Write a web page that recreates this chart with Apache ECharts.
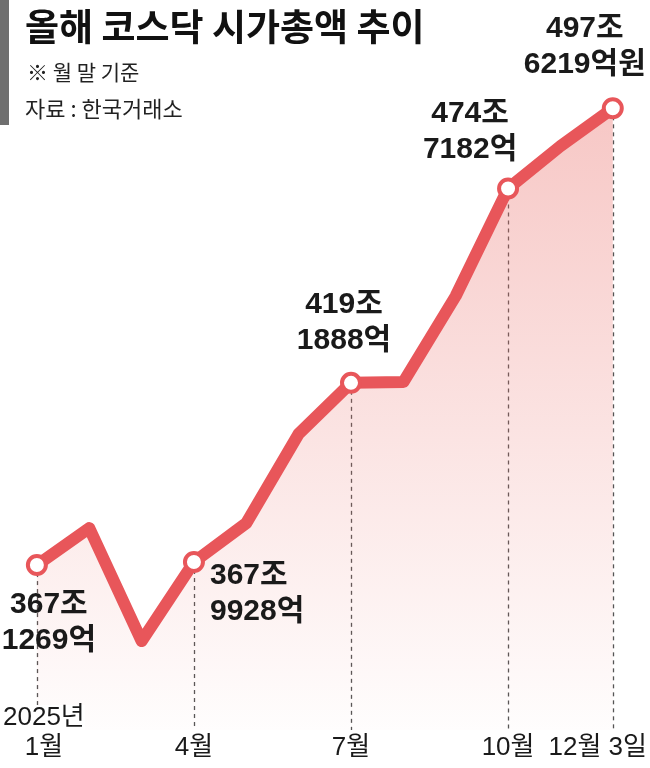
<!DOCTYPE html>
<html>
<head>
<meta charset="utf-8">
<script src="https://cdn.jsdelivr.net/npm/echarts@6/dist/echarts.min.js"></script>
<style>
  html, body { margin: 0; padding: 0; background: #fff; }
  #chart { width: 650px; height: 768px; }
</style>
</head>
<body>
<div id="chart"></div>
<script>
// ---- data ----
var months = ['1월', '2월', '3월', '4월', '5월', '6월', '7월', '8월', '9월', '10월', '11월', '12월 3일'];
var values = [367.1269, 377.7, 345.4, 367.9928, 379.1, 404.6, 419.1888, 419.4, 444.0, 474.7182, 486.8, 497.6219];
var labeledIdx = [0, 3, 6, 9, 11];
var axisLabelIdx = [0, 3, 6, 9, 11];
var yearLabel = '2025년';
var titleText = '올해 코스닥 시가총액 추이';
var noteText = '※ 월 말 기준';
var sourceText = '자료 : 한국거래소';

// ---- styles ----
var RED = '#e8565a';
var NUM_FONT = "'Liberation Sans', 'Noto Sans CJK KR', sans-serif";
var KR_FONT = "'Noto Sans CJK KR', sans-serif";

function valueText(v, i) {
  var jo = Math.floor(v);
  var eok = Math.round((v - jo) * 10000);
  return '{a|' + jo + '조}\n{b|' + eok + '억' + (i === values.length - 1 ? '원' : '') + '}';
}

var labelPlacement = {
  0: { position: 'bottom', distance: 11, offset: [12, 0] },
  3: { position: 'right', distance: 5, offset: [0, 32] },
  6: { position: 'top', distance: 13, offset: [-7, 0] },
  9: { position: 'top', distance: 10, offset: [-38, 0] },
  11: { position: 'top', distance: 15, offset: [-28, 0] }
};

var richNum = {
  a: { fontFamily: NUM_FONT, fontWeight: 'bold', fontSize: 30, lineHeight: 36, color: '#1a1a1a' },
  b: { fontFamily: NUM_FONT, fontWeight: 'bold', fontSize: 30, lineHeight: 36, color: '#1a1a1a' }
};

var seriesData = values.map(function (v, i) {
  if (labeledIdx.indexOf(i) >= 0) {
    var p = labelPlacement[i];
    return {
      value: v,
      symbol: 'circle',
      symbolSize: 18,
      label: {
        show: true,
        position: p.position,
        distance: p.distance,
        offset: p.offset,
        align: 'center',
        formatter: valueText(v, i),
        rich: richNum
      }
    };
  }
  return { value: v, symbol: 'none' };
});
seriesData[3].label.align = 'left';

var dropLines = labeledIdx.map(function (i) {
  return [
    { coord: [months[i], values[i]] },
    { coord: [months[i], 320] }
  ];
});

var xData = months.map(function (m, i) {
  if (i === 0) return { value: m, textStyle: { padding: [0, 0, 0, 14] } };
  if (i === months.length - 1) return { value: m, textStyle: { padding: [0, 30, 0, 0] } };
  return m;
});

var chart = echarts.init(document.getElementById('chart'), null, { renderer: 'canvas' });
chart.setOption({
  backgroundColor: '#fff',
  animation: false,
  title: [
    { text: titleText, left: 20, top: 3, textStyle: { fontFamily: KR_FONT, fontWeight: 'bold', fontSize: 37, color: '#111' } },
    { text: noteText, left: 22, top: 57, textStyle: { fontFamily: KR_FONT, fontWeight: 'normal', fontSize: 21, color: '#222' } },
    { text: sourceText, left: 20, top: 93, textStyle: { fontFamily: KR_FONT, fontWeight: 'normal', fontSize: 22, color: '#222' } }
  ],
  graphic: [
    { type: 'rect', left: 0, top: 0, shape: { width: 9, height: 125 }, style: { fill: '#6f6f6f' } }
  ],
  grid: { left: 32, right: 32, top: 30, bottom: 38 },
  xAxis: {
    type: 'category',
    data: xData,
    boundaryGap: false,
    z: 10,
    axisLine: { show: false },
    axisTick: { show: false },
    splitLine: { show: false },
    axisLabel: {
      interval: 0,
      margin: -27,
      formatter: function (val, idx) {
        if (axisLabelIdx.indexOf(idx) < 0) return '';
        var top = idx === 0 ? '{y|' + yearLabel + '}' : '{e| }';
        return top + '\n{m|' + val + '}';
      },
      rich: {
        y: { fontFamily: NUM_FONT, fontSize: 26, lineHeight: 30, color: '#1a1a1a', backgroundColor: '#fff' },
        e: { fontFamily: NUM_FONT, fontSize: 26, lineHeight: 30 },
        m: { fontFamily: NUM_FONT, fontSize: 26, lineHeight: 30, color: '#1a1a1a' }
      }
    }
  },
  yAxis: {
    type: 'value',
    min: 320,
    max: 520,
    show: false,
    splitLine: { show: false }
  },
  series: [{
    type: 'line',
    data: seriesData,
    lineStyle: { color: RED, width: 12, join: 'round', cap: 'round' },
    itemStyle: { color: '#fff', borderColor: RED, borderWidth: 4 },
    areaStyle: {
      color: new echarts.graphic.LinearGradient(0, 0, 0, 1, [
        { offset: 0, color: 'rgba(234,110,105,0.55)' },
        { offset: 1, color: 'rgba(234,110,105,0.02)' }
      ])
    },
    z: 3,
    markLine: {
      silent: true,
      symbol: 'none',
      label: { show: false },
      lineStyle: { color: '#555', width: 1.3, type: [4, 4] },
      data: dropLines,
      z: 1
    }
  }]
});
</script>
</body>
</html>
